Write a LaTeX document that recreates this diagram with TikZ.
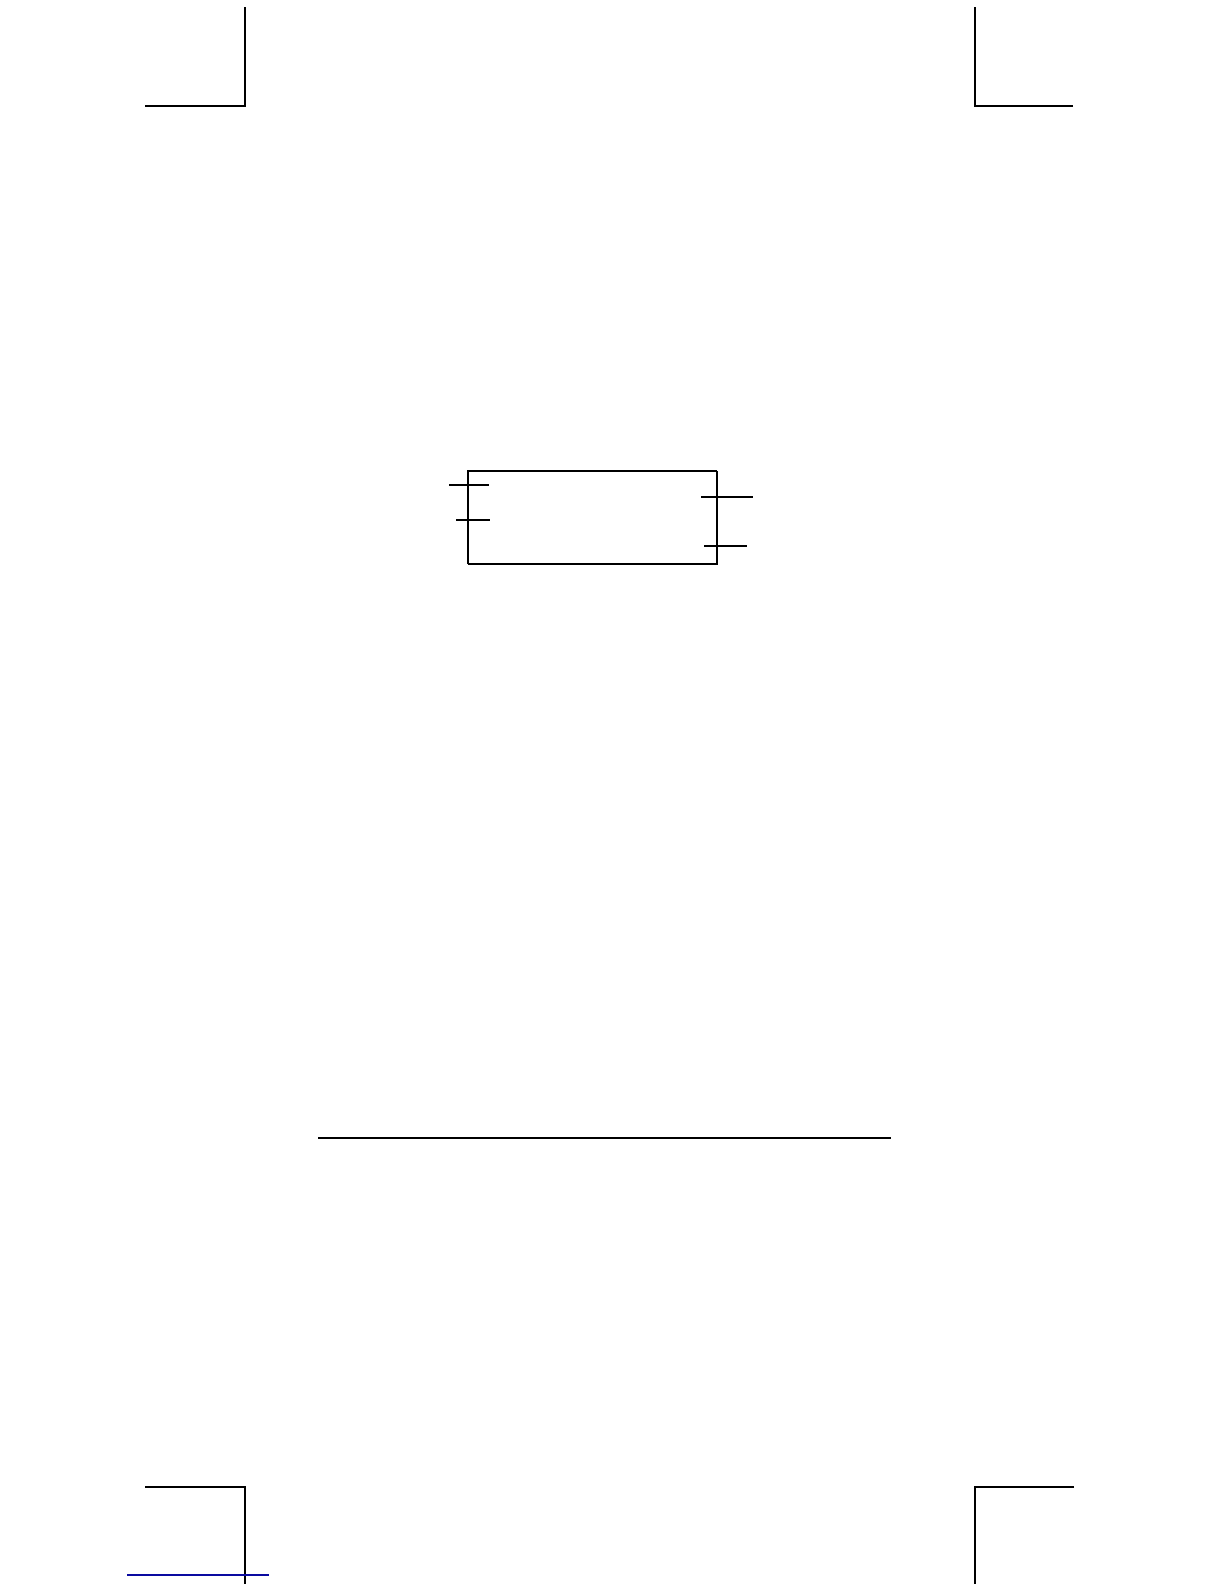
\documentclass[tikz,border=0pt]{standalone}
\begin{document}
\begin{tikzpicture}[x=0.5pt,y=-0.5pt,
  crop/.style={line width=0.9pt,black},
  thinln/.style={line width=0.55pt,black},
  thickln/.style={line width=0.95pt,black}]
\useasboundingbox (0,0) rectangle (1224,1584);
% crop marks
\coordinate (tl1) at (145,106); \coordinate (tl2) at (245,106); \coordinate (tl3) at (245,7);
\draw[crop] (tl1) -- (tl2) -- (tl3);
\coordinate (tr1) at (1073,106); \coordinate (tr2) at (975,106); \coordinate (tr3) at (975,7);
\draw[crop] (tr1) -- (tr2) -- (tr3);
\coordinate (bl1) at (145,1487); \coordinate (bl2) at (245,1487); \coordinate (bl3) at (245,1584);
\draw[crop] (bl1) -- (bl2) -- (bl3);
\coordinate (br1) at (1074,1487); \coordinate (br2) at (975,1487); \coordinate (br3) at (975,1584);
\draw[crop] (br1) -- (br2) -- (br3);
% blue line
\coordinate (bu1) at (127,1575); \coordinate (bu2) at (269,1575);
\draw[line width=0.6pt,color={rgb,255:red,10;green,10;blue,160}] (bu1) -- (bu2);
% display box
\coordinate (b1) at (468,471); \coordinate (b2) at (717,471);
\coordinate (b3) at (717,564); \coordinate (b4) at (468,564);
\draw[thickln] (b4) -- (b1) -- (b2);
\draw[thinln] (b2) -- (b3) -- (b4);
% ticks
\coordinate (l1a) at (449,485); \coordinate (l1b) at (489,485);
\draw[thinln] (l1a) -- (l1b);
\coordinate (l2a) at (456,520); \coordinate (l2b) at (490,520);
\draw[thinln] (l2a) -- (l2b);
\coordinate (r1a) at (701,497); \coordinate (r1b) at (753,497);
\draw[line width=1.1pt] (r1a) -- (r1b);
\coordinate (r2a) at (704,546); \coordinate (r2b) at (747,546);
\draw[thinln] (r2a) -- (r2b);
% rule
\coordinate (h1) at (318,1138); \coordinate (h2) at (891,1138);
\draw[line width=1pt] (h1) -- (h2);
\end{tikzpicture}
\end{document}
